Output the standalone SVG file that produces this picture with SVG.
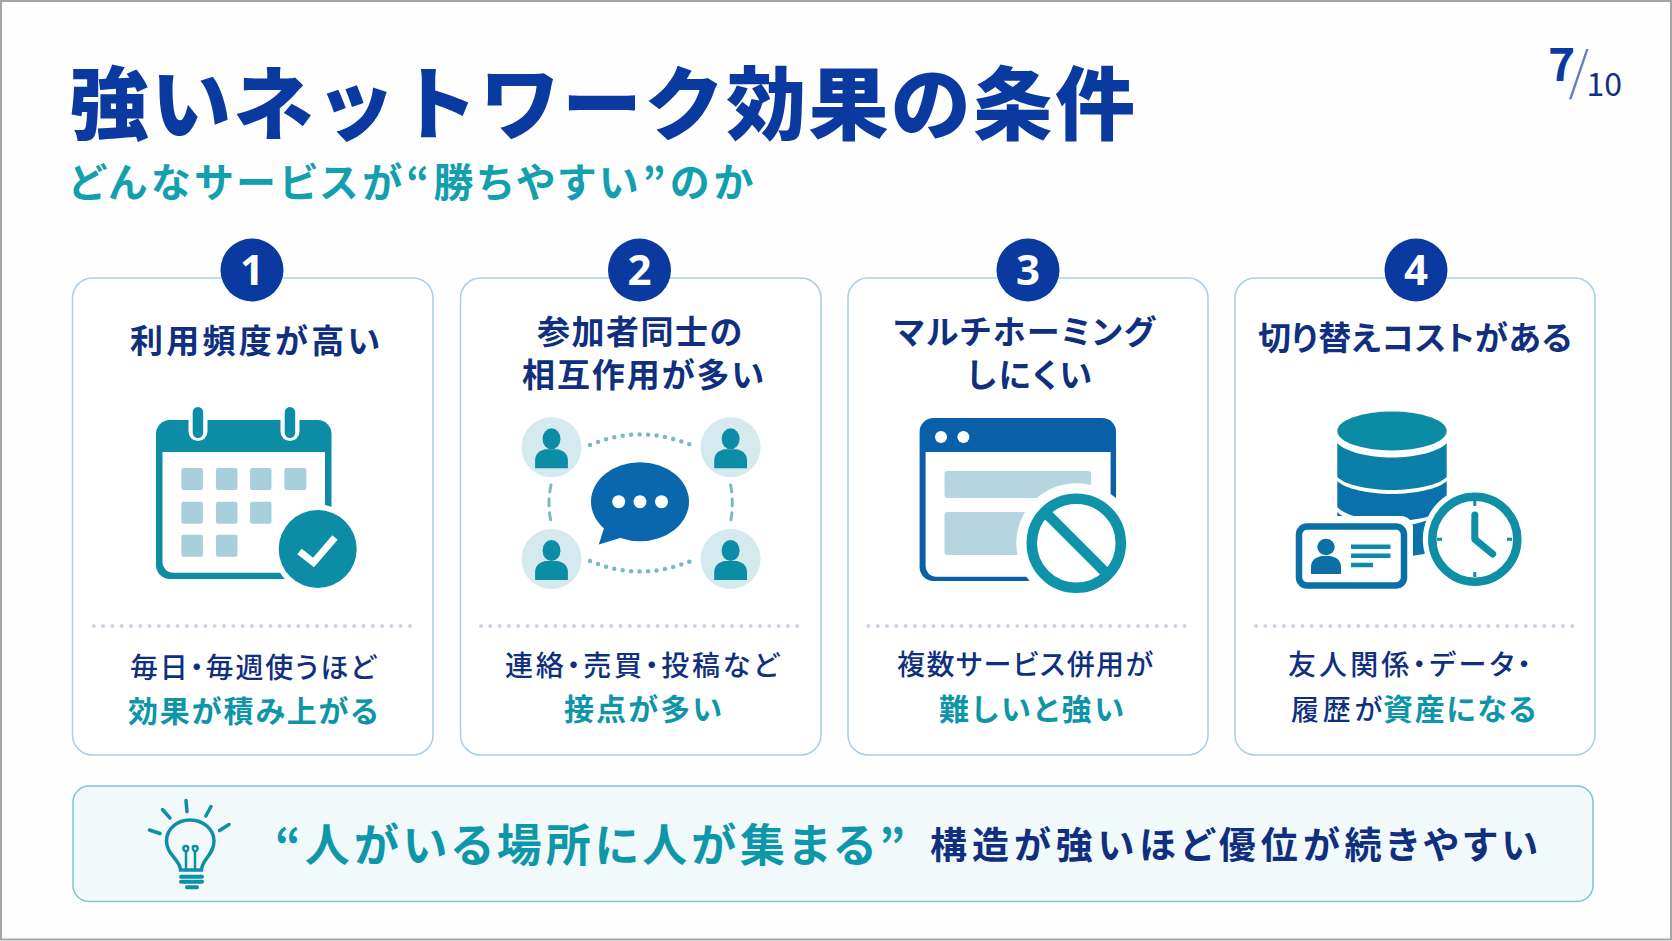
<svg xmlns="http://www.w3.org/2000/svg" width="1672" height="941" viewBox="0 0 1672 941">
<style>
text{font-family:"Noto Sans CJK JP","Noto Sans",sans-serif;font-feature-settings:"palt"}
.card{fill:#fff;stroke:#a9cfe4;stroke-width:1.5}
.badge{fill:#0a3a9f}
.num{fill:#fff;font-family:"Noto Sans",sans-serif;font-weight:700;font-size:42px;text-anchor:middle}
.h{fill:#10307f;font-size:33px;font-weight:700}
.b{fill:#10307f;font-size:28px;font-weight:500}
.t{fill:#0e95a7;font-size:30px;font-weight:700}
.div{stroke:#c9d6ea;stroke-width:4;stroke-linecap:round;stroke-dasharray:0 9.3;fill:none}
.teal{fill:#0c8ca5}
.cell{fill:#a9cfdd}
.panel{fill:#b5d6e1}
.arc{fill:none;stroke:#7fb6c4;stroke-linecap:round}
</style>
<defs>
<g id="person"><circle cx="0" cy="0" r="30" fill="#d4eaee"/><ellipse cx="0" cy="-8.5" rx="9" ry="10.5" class="teal"/><path d="M-16.4 21V13C-16.4 6-11 3-6 2H6C11 3 16.4 6 16.4 13V21Z" class="teal"/></g>
</defs>
<rect x="0" y="0" width="1672" height="941" fill="#fff"/>
<rect x="1" y="1" width="1670" height="938.5" fill="#fefeff" stroke="#a6a6a6" stroke-width="2"/>

<g id="title">
<text x="69" y="133" font-size="80" font-weight="900" fill="#0a3a9f" textLength="1066" style="font-feature-settings:normal">強いネットワーク効果の条件</text>
<text x="69" y="197" font-size="40" font-weight="700" fill="#12a0ae" textLength="684">どんなサービスが“勝ちやすい”のか</text>
</g>
<g id="page">
<text x="1548" y="81" font-family="Noto Sans" font-size="46" font-weight="700" fill="#0a3a9f">7</text>
<text x="1568.500" y="90" font-family="Noto Sans" font-size="52" font-weight="300" fill="#5f7fbd">/</text>
<text x="1586.500" y="96" font-family="Noto Sans" font-size="32" fill="#10307f">10</text>
</g>

<g id="card1">
<rect class="card" x="72.5" y="278" width="360.5" height="477" rx="20"/>
<circle class="badge" cx="252" cy="270" r="31.5"/><text class="num" x="252" y="285">1</text>
<text class="h" x="130" y="353" textLength="250">利用頻度が高い</text>
<g id="icon-calendar">
<rect x="156" y="420" width="175.500" height="159" rx="14" class="teal"/>
<path d="M162.500 452H325V561H300V572.700H173A10.500 10.500 0 0 1 162.500 562Z" fill="#fff"/>
<rect x="188.500" y="404" width="19" height="37" rx="9.500" fill="#fff"/><rect x="192.700" y="407" width="10.500" height="31" rx="5.200" class="teal"/>
<rect x="280.500" y="404" width="19" height="37" rx="9.500" fill="#fff"/><rect x="284.700" y="407" width="10.500" height="31" rx="5.200" class="teal"/>
<g class="cell">
<rect x="181.400" y="468" width="21.500" height="22" rx="2"/><rect x="216" y="468" width="21.500" height="22" rx="2"/><rect x="250" y="468" width="21.500" height="22" rx="2"/><rect x="284.400" y="468" width="22" height="22" rx="2"/>
<rect x="181.400" y="501.700" width="21.500" height="22" rx="2"/><rect x="216" y="501.700" width="21.500" height="22" rx="2"/><rect x="250" y="501.700" width="21.500" height="22" rx="2"/>
<rect x="181.400" y="534.700" width="21.500" height="22" rx="2"/><rect x="216" y="534.700" width="21.500" height="22" rx="2"/>
</g>
<circle cx="317.700" cy="549" r="44.500" fill="#fff"/><circle cx="317.700" cy="549" r="39" class="teal"/>
<path d="M299.500 551.500L313.500 562.500L335 537.500" fill="none" stroke="#fff" stroke-width="7"/>
</g>
<path class="div" d="M93.800 626H411"/>
<text class="b" x="130" y="678" textLength="246">毎日・毎週使うほど</text>
<text class="t" x="128" y="722" textLength="250">効果が積み上がる</text>
</g>

<g id="card2">
<rect class="card" x="460.500" y="278" width="360.500" height="477" rx="20"/>
<circle class="badge" cx="639.500" cy="270" r="31.500"/><text class="num" x="639.500" y="285">2</text>
<text class="h" x="537" y="344" textLength="205">参加者同士の</text>
<text class="h" x="522" y="387" textLength="242">相互作用が多い</text>
<g id="icon-chat">
<path class="arc" stroke-width="4.500" stroke-dasharray="0 8.500" d="M590 445Q640 424 691 445"/>
<path class="arc" stroke-width="4.500" stroke-dasharray="0 8.500" d="M590 561Q640 582 691 561"/>
<path class="arc" stroke-width="3" stroke-dasharray="7 7" d="M551 485Q547 503 551 522"/>
<path class="arc" stroke-width="3" stroke-dasharray="7 7" d="M730.600 485Q734 503 730.600 522"/>
<use href="#person" x="551.500" y="447.300"/><use href="#person" x="730.600" y="447.300"/><use href="#person" x="551.500" y="559"/><use href="#person" x="730.600" y="559"/>
<ellipse cx="640" cy="501.700" rx="49" ry="39.500" fill="#0a67ad"/>
<path d="M605 525L598.800 544.500L630 535Z" fill="#0a67ad"/>
<g fill="#fff"><circle cx="618.700" cy="501.700" r="6.500"/><circle cx="640" cy="501.700" r="6.500"/><circle cx="661.500" cy="501.700" r="6.500"/></g>
</g>
<path class="div" d="M481 626H799"/>
<text class="b" x="505" y="676" textLength="274">連絡・売買・投稿など</text>
<text class="t" x="564" y="720" textLength="158">接点が多い</text>
</g>

<g id="card3">
<rect class="card" x="848" y="278" width="360" height="477" rx="20"/>
<circle class="badge" cx="1028" cy="270" r="31.500"/><text class="num" x="1028" y="285">3</text>
<text class="h" x="894" y="344" textLength="261">マルチホーミング</text>
<text class="h" x="967" y="387" textLength="125">しにくい</text>
<g id="icon-browser">
<rect x="919.600" y="418" width="196.400" height="163" rx="14" fill="#0a5fa9"/>
<path d="M925.600 452H1110.600V576.700H936A10.500 10.500 0 0 1 925.600 566Z" fill="#fff"/>
<circle cx="941" cy="437" r="6" fill="#fff"/><circle cx="963.400" cy="437" r="6" fill="#fff"/>
<rect class="panel" x="944.500" y="471" width="146.500" height="27" rx="3"/><rect class="panel" x="944.500" y="512" width="100" height="43" rx="3"/>
<circle cx="1076.300" cy="543.300" r="60" fill="#fff"/>
<circle cx="1076.300" cy="543.300" r="44.500" fill="none" stroke="#0e93a8" stroke-width="10.500"/>
<path d="M1045 512L1107.500 574.500" stroke="#0e93a8" stroke-width="10.500"/>
</g>
<path class="div" d="M868.400 626H1186"/>
<text class="b" x="897" y="675" textLength="256">複数サービス併用が</text>
<text class="t" x="939" y="720" textLength="185">難しいと強い</text>
</g>

<g id="card4">
<rect class="card" x="1235" y="278" width="360" height="477" rx="20"/>
<circle class="badge" cx="1416" cy="270" r="31.500"/><text class="num" x="1416" y="285">4</text>
<text class="h" x="1258" y="350" textLength="314">切り替えコストがある</text>
<g id="icon-db">
<ellipse cx="1392" cy="431" rx="54.700" ry="19.500" fill="#0c8ba5"/>
<path d="M1337.300 443C1345 452 1370 457.500 1392 457.500S1439 452 1446.700 443V477C1439 485 1415 490 1392 490S1345 485 1337.300 477Z" fill="#0b7fa8"/>
<path d="M1337.300 481C1345 489 1370 494 1392 494S1439 489 1446.700 481V507C1439 516 1415 521 1392 521S1345 516 1337.300 507Z" fill="#0a72aa"/>
<path d="M1337.300 512C1345 520 1370 526 1392 526S1425 522 1446.700 512V546C1439 552 1415 557 1392 557S1345 552 1337.300 546Z" fill="#0a72aa"/>
<rect x="1287" y="516" width="126" height="80" rx="12" fill="#fff"/>
<rect x="1299" y="526.500" width="105" height="59" rx="8" fill="#fff" stroke="#0a70a6" stroke-width="6.500"/>
<ellipse cx="1326" cy="547" rx="8.700" ry="8.300" fill="#0a70a6"/>
<path d="M1311 574V567C1311 560 1316 557 1322 556H1330C1336 557 1341 560 1341 567V574Z" fill="#0a70a6"/>
<path d="M1351 546.700H1390.500M1351 555.700H1390.500M1351 565H1373" stroke="#0a8ba6" stroke-width="4.500" fill="none"/>
<circle cx="1474.800" cy="539.300" r="52" fill="#fff"/>
<circle cx="1474.800" cy="539.300" r="42.500" fill="#fff" stroke="#0e8fa6" stroke-width="8.500"/>
<path d="M1474.800 515V539.300L1492.700 554" fill="none" stroke="#0e8fa6" stroke-width="7" stroke-linecap="round" stroke-linejoin="round"/>
<path d="M1474.800 501V506M1474.800 572V577M1437 539.300H1442M1507 539.300H1512" stroke="#0e8fa6" stroke-width="3"/>
</g>
<path class="div" d="M1256 626H1573"/>
<text class="b" x="1288" y="675" textLength="243">友人関係・データ・</text>
<text class="b" x="1291" y="720" textLength="91">履歴が</text>
<text class="t" x="1383" y="720" textLength="153">資産になる</text>
</g>

<g id="banner">
<rect x="73" y="786" width="1520" height="115.500" rx="16" fill="#f2f9fb" stroke="#7cc5d1" stroke-width="1.500"/>
<g id="icon-bulb" fill="none" stroke="#0e8fa6" stroke-linecap="round">
<path stroke-width="3.500" d="M149.500 830L160 833.500M162.500 809.500L170 818M186 800.500L187 811.700M211 806.500L205.800 816M229 824.500L219.500 830.500"/>
<path stroke-width="3.500" d="M180.500 870C180 859 166.500 855 166.500 841C166.500 829 177 820 190 820S214 829 214 841C214 855 202 859 201.500 870Z"/>
<path stroke-width="2.500" d="M186 870V852M195 870V852M186 852C182 849 183 846 186 846S189 850 186 852ZM195 852C192 849 192 846 195 846S199 849 195 852Z"/>
<path stroke-width="4" d="M181 876.700H202M181 881.700H202M187 887.300H197"/>
</g>
<text x="275" y="862" font-size="45" font-weight="700" fill="#0e97a8" textLength="630">“人がいる場所に人が集まる”</text>
<text x="930" y="859" font-size="37" font-weight="700" fill="#10307f" textLength="608">構造が強いほど優位が続きやすい</text>
</g>
</svg>
